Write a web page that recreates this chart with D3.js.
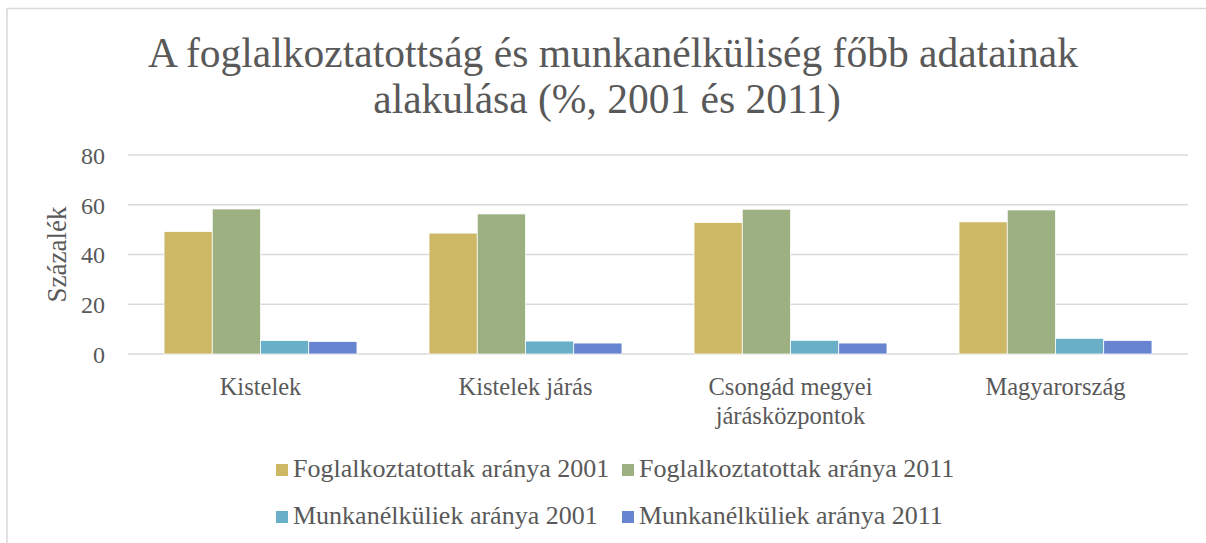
<!doctype html>
<html>
<head>
<meta charset="utf-8">
<script src="https://d3js.org/d3.v7.min.js"></script>
<style>
    body { margin: 0; background: #fff; }
    text { font-family: "Liberation Serif", "DejaVu Serif", serif; fill: #595959; }
</style>
</head>
<body>
<svg width="1206" height="543"></svg>
<script>

var categories = [["Kistelek"], ["Kistelek járás"], ["Csongád megyei", "járásközpontok"], ["Magyarország"]];
var seriesNames = ["Foglalkoztatottak aránya 2001", "Foglalkoztatottak aránya 2011",
                   "Munkanélküliek aránya 2001", "Munkanélküliek aránya 2011"];
var foglalk2001 = [49.2, 48.6, 52.9, 53.1];
var foglalk2011 = [58.3, 56.3, 58.2, 57.9];
var munkan2001 = [5.4, 5.2, 5.5, 6.3];
var munkan2011 = [5.0, 4.4, 4.4, 5.4];
var yTicks = [0, 20, 40, 60, 80];

var colors = ["#cdb866", "#9db082", "#6aafc8", "#6684cf"];
var series = [foglalk2001, foglalk2011, munkan2001, munkan2011];

var svg = d3.select("svg");

// chart frame
svg.append("path")
   .attr("d", "M7,543 V8.5 H1206")
   .attr("fill", "none")
   .attr("stroke", "#d9d9d9")
   .attr("stroke-width", 1.5);

var title = svg.append("text")
   .attr("text-anchor", "middle")
   .attr("font-size", "41.5px");
title.append("tspan").attr("x", 613).attr("y", 67).text("A foglalkoztatottság és munkanélküliség főbb adatainak");
title.append("tspan").attr("x", 607).attr("y", 113).text("alakulása (%, 2001 és 2011)");

var plotLeft = 128, plotRight = 1188, plotTop = 155, plotBottom = 354;

var x0 = d3.scaleBand()
    .domain(d3.range(categories.length))
    .range([plotLeft, plotRight])
    .paddingInner(0.272)
    .paddingOuter(0.136);

var x1 = d3.scaleBand()
    .domain(d3.range(series.length))
    .range([0, x0.bandwidth()]);

var y = d3.scaleLinear().domain([0, 80]).range([plotBottom, plotTop]);

// gridlines
svg.append("g")
   .selectAll("line")
   .data(yTicks)
   .enter().append("line")
   .attr("x1", plotLeft)
   .attr("x2", plotRight)
   .attr("y1", function(d) { return y(d); })
   .attr("y2", function(d) { return y(d); })
   .attr("stroke", "#d9d9d9")
   .attr("stroke-width", 1.5);

// y axis labels
var yAxis = svg.append("g")
   .attr("transform", "translate(105,0)")
   .call(d3.axisLeft(y).tickValues(yTicks).tickSize(0).tickPadding(0));
yAxis.select(".domain").remove();
yAxis.selectAll("text")
   .attr("font-size", "24px")
   .attr("font-family", "Liberation Serif")
   .attr("fill", "#595959")
   .attr("dy", "0.35em");

svg.append("text")
   .attr("transform", "translate(66," + ((plotTop + plotBottom) / 2) + ") rotate(-90)")
   .attr("text-anchor", "middle")
   .attr("font-size", "27px")
   .text("Százalék");

// bars
var groups = svg.append("g")
   .selectAll("g")
   .data(categories)
   .enter().append("g")
   .attr("transform", function(d, i) { return "translate(" + x0(i) + ",0)"; });

groups.selectAll("rect")
   .data(function(d, i) { return series.map(function(s, k) { return { k: k, v: s[i] }; }); })
   .enter().append("rect")
   .attr("x", function(d) { return x1(d.k); })
   .attr("y", function(d) { return y(d.v); })
   .attr("width", x1.bandwidth())
   .attr("height", function(d) { return y(0) - y(d.v); })
   .attr("fill", function(d) { return colors[d.k]; })
   .attr("stroke", "#ffffff")
   .attr("stroke-width", 0.75);

// category labels
var xAxis = svg.append("g");
xAxis.selectAll("text")
   .data(categories)
   .enter().append("text")
   .attr("text-anchor", "middle")
   .attr("font-size", "24.5px")
   .attr("x", function(d, i) { return x0(i) + x0.bandwidth() / 2; })
   .attr("y", 395)
   .each(function(d) {
       var t = d3.select(this);
       d.forEach(function(line, j) {
           t.append("tspan")
            .attr("x", t.attr("x"))
            .attr("dy", j === 0 ? 0 : 29)
            .text(line);
       });
   });

// legend
var legendPos = [[276, 477], [622, 477], [276, 524], [622, 524]];
var legend = svg.append("g")
   .selectAll("g")
   .data(seriesNames)
   .enter().append("g")
   .attr("transform", function(d, i) { return "translate(" + legendPos[i][0] + "," + legendPos[i][1] + ")"; });

legend.append("rect")
   .attr("x", 0)
   .attr("y", -13)
   .attr("width", 12)
   .attr("height", 12)
   .attr("fill", function(d, i) { return colors[i]; });

legend.append("text")
   .attr("x", 17)
   .attr("y", 0)
   .attr("font-size", "26px")
   .text(function(d) { return d; });

</script>
</body>
</html>
